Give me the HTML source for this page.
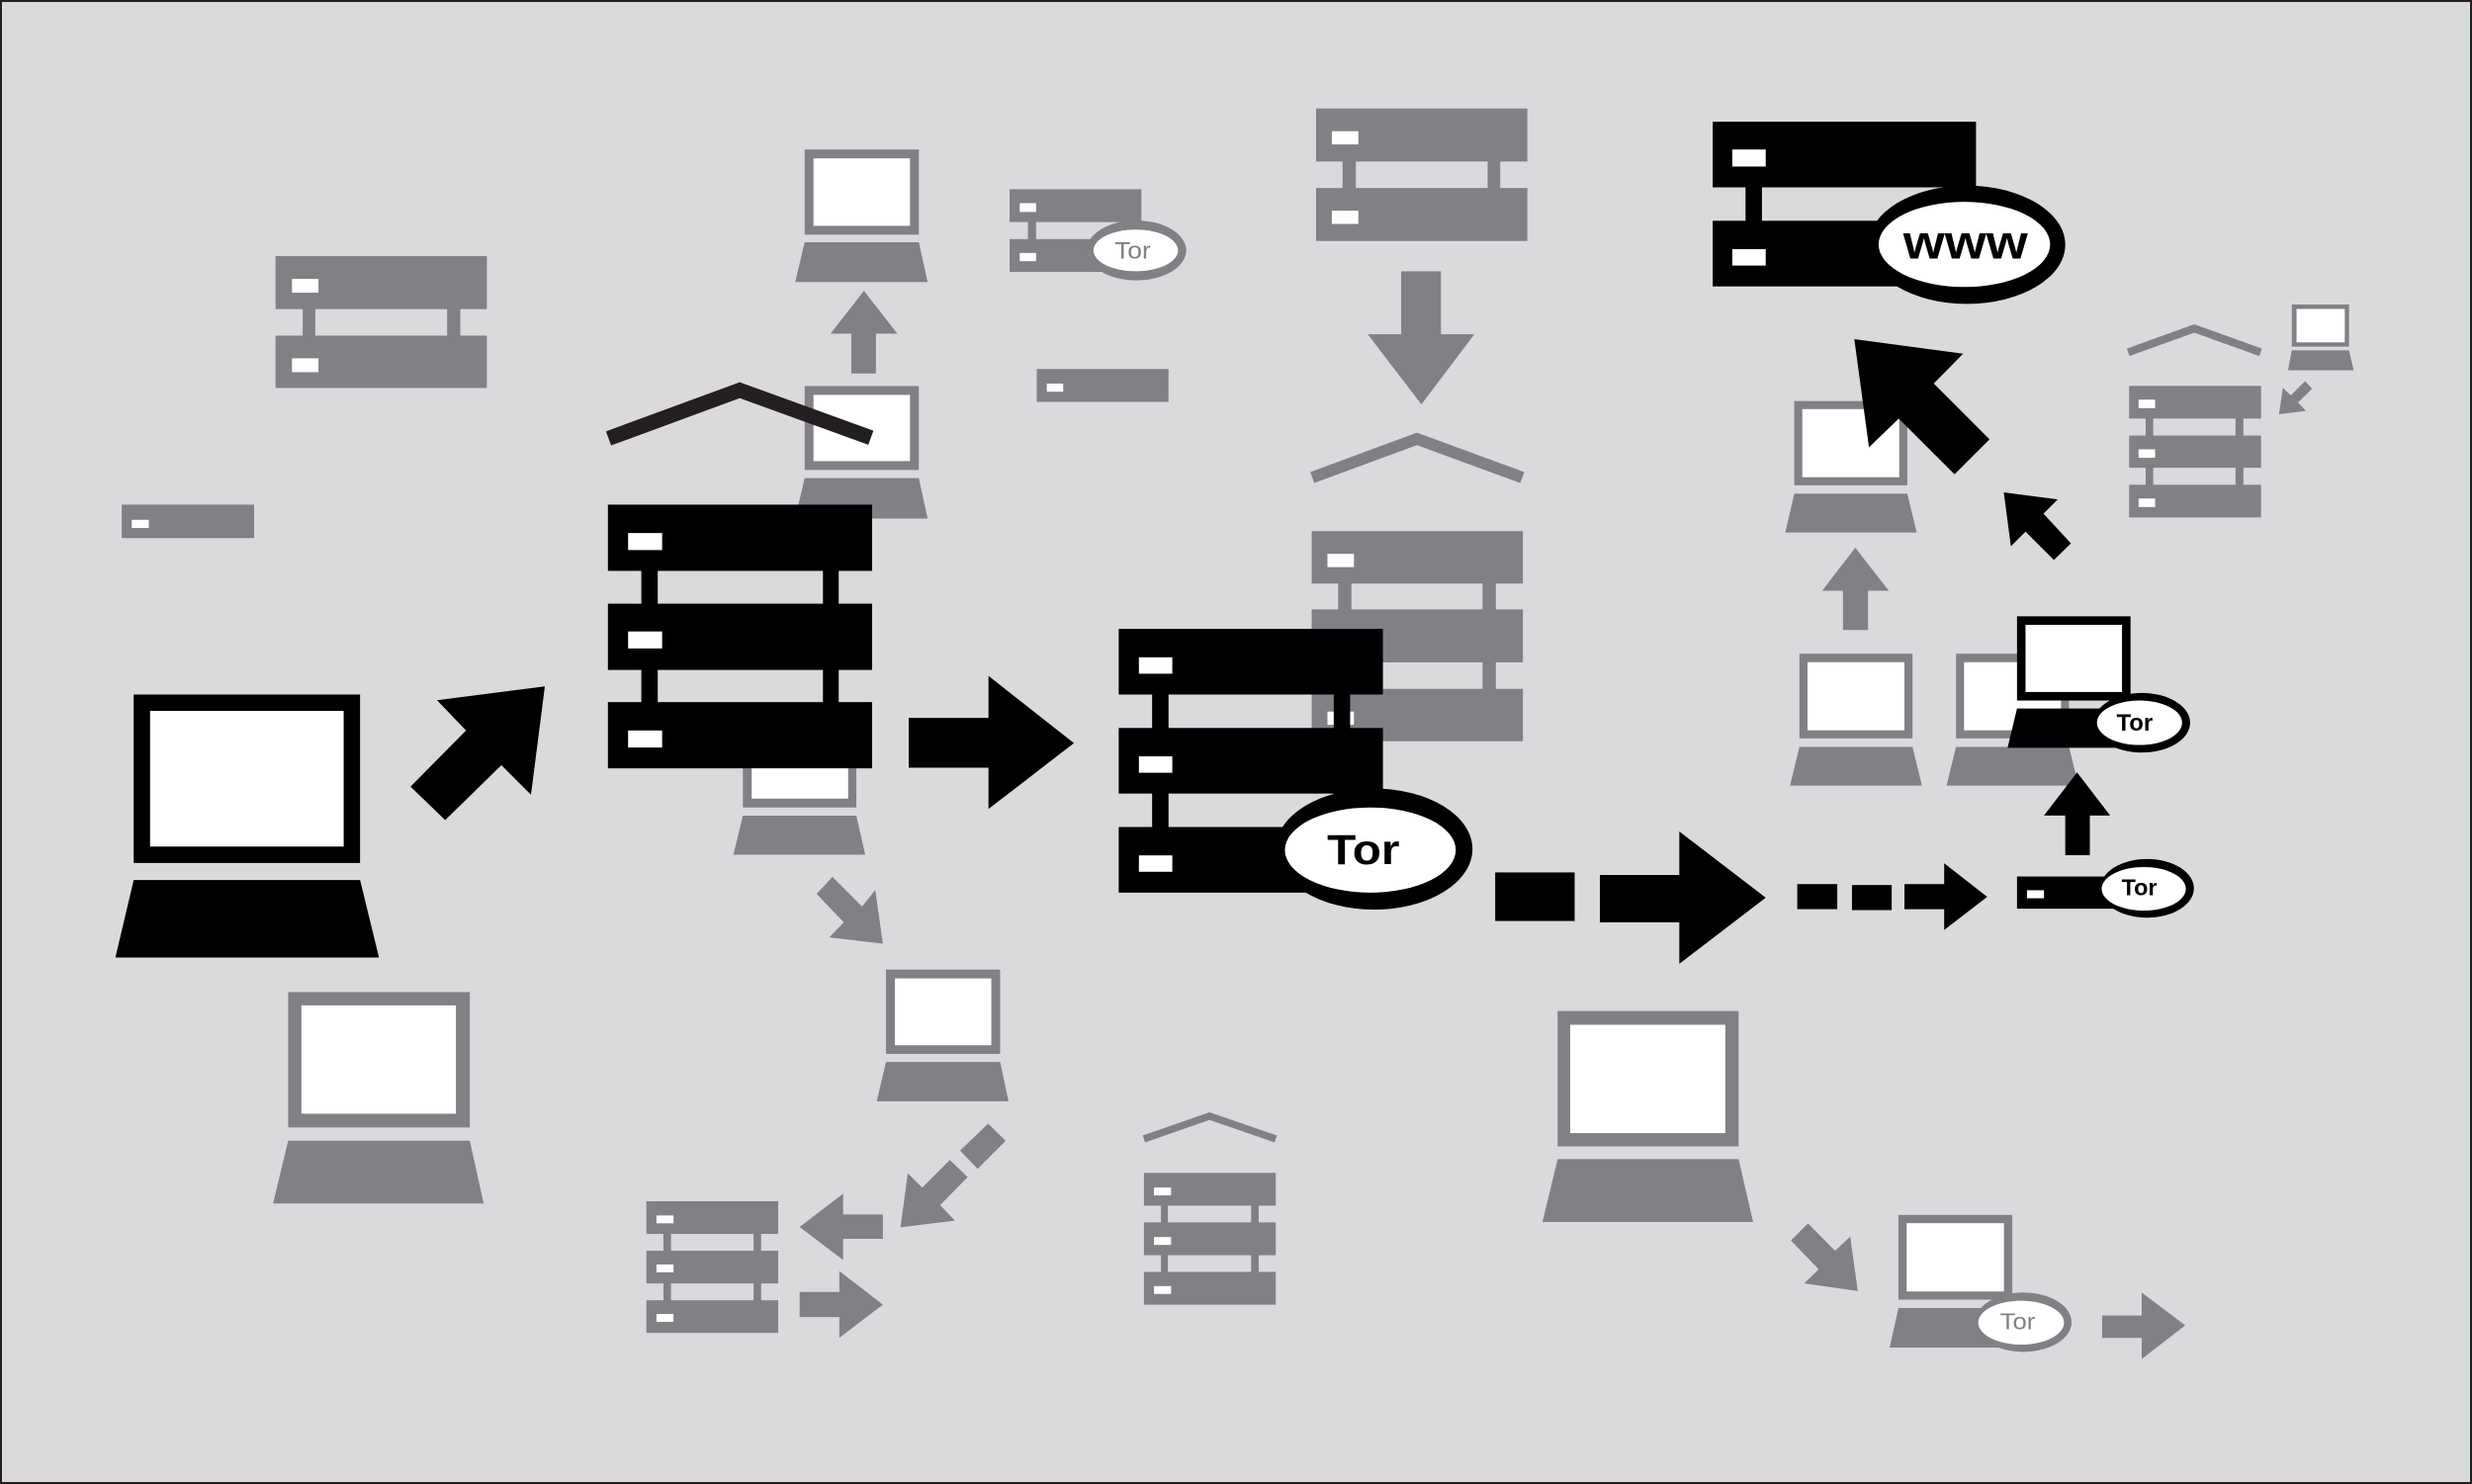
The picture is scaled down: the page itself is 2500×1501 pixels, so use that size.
<!DOCTYPE html>
<html><head><meta charset="utf-8"><style>html,body{margin:0;padding:0;background:#d9dadc;}svg{display:block;}</style></head><body>
<svg xmlns="http://www.w3.org/2000/svg" width="2500" height="1501" viewBox="0 0 1568 941" preserveAspectRatio="none">
<rect width="1568" height="941" fill="#d9dadc"/>
<g fill="#818085">
<!-- gray 2-unit TL -->
<rect x="174.8" y="162.4" width="134" height="33.6"/><rect x="174.8" y="212.8" width="134" height="33.2"/>
<rect x="192" y="195" width="8" height="19"/><rect x="283.6" y="195" width="8.4" height="19"/>
<!-- gray single left -->
<rect x="77.2" y="320" width="84" height="21.2"/>
<!-- laptop top -->
<rect x="510.4" y="94.8" width="72.4" height="54"/>
<polygon points="510.4,153.6 582.8,153.6 588.4,178.8 504.4,178.8"/>
<polygon points="548,184.4 569.2,211.6 555.6,211.6 555.6,236.8 540,236.8 540,211.6 526.8,211.6"/>
<rect x="510.4" y="244.8" width="72.4" height="53.2"/>
<polygon points="510.4,303.2 582.8,303.2 588.4,328.8 504.4,328.8"/>
<!-- gray tor server small -->
<rect x="640.4" y="120" width="83.6" height="20.8"/><rect x="640.4" y="151.6" width="83.6" height="20.8"/>
<rect x="652" y="140" width="5.2" height="12.4"/>
<ellipse cx="720.8" cy="158.8" rx="31.6" ry="19"/>
<!-- gray single -->
<rect x="657.6" y="234" width="83.6" height="20.8"/>
<!-- gray 2-unit top center -->
<rect x="834.8" y="68.8" width="134" height="33.6"/><rect x="834.8" y="119.2" width="134" height="33.6"/>
<rect x="851.6" y="102" width="8.4" height="18"/><rect x="943.6" y="102" width="8" height="18"/>
<polygon points="888.8,172 914,172 914,212 935.2,212 901.6,256.4 867.6,212 888.8,212"/>
<!-- gray 3-unit center -->
<rect x="832" y="336.8" width="134" height="33.2"/><rect x="832" y="386.4" width="134" height="33.6"/><rect x="832" y="436.8" width="134" height="33.2"/>
<rect x="848.8" y="369" width="8.4" height="18"/><rect x="940.4" y="369" width="8.4" height="18"/>
<rect x="848.8" y="419" width="8.4" height="18"/><rect x="940.4" y="419" width="8.4" height="18"/>
<!-- gray laptop behind black server -->
<rect x="471.2" y="458" width="72" height="54"/>
<polygon points="471.2,517.2 543.2,517.2 548.8,542 465.2,542"/>
<polygon points="518,566.8 528,556 546.8,574.8 555.2,564.4 560,598.4 526,594.4 535.2,584.8"/>
<!-- laptop lower center -->
<rect x="562" y="614.8" width="72.4" height="53.5"/>
<polygon points="562,673.4 634.4,673.4 639.7,698.3 556.1,698.3"/>
<polygon points="626.8,712.5 637.9,723.4 620.1,741.2 609,729.6"/>
<polygon points="571.2,778.2 575.8,743.9 585,753.1 602.5,735.5 613.8,746.4 596.3,764.1 605.7,774"/>
<!-- gray 3-unit small BL -->
<rect x="410" y="761.7" width="83.6" height="20.7"/><rect x="410" y="793.1" width="83.6" height="20.7"/><rect x="410" y="824.5" width="83.6" height="20.7"/>
<rect x="420.8" y="782" width="4.8" height="11.5"/><rect x="478" y="782" width="4.8" height="11.5"/>
<rect x="420.8" y="813.5" width="4.8" height="11.5"/><rect x="478" y="813.5" width="4.8" height="11.5"/>
<polygon points="507.2,778 534.8,756.9 534.8,770.1 560,770.1 560,785.5 534.8,785.5 534.8,799"/>
<polygon points="507.2,819.2 532.4,819.2 532.4,806 560,827.3 532.4,848.3 532.4,835.1 507.2,835.1"/>
<!-- big gray laptop BL -->
<rect x="182.8" y="629.1" width="115.2" height="85.8"/>
<polygon points="182.8,723.3 298,723.3 306.8,763.1 173.2,763.1"/>
<!-- bottom center server -->
<rect x="725.6" y="743.7" width="83.6" height="20.8"/><rect x="725.6" y="775.1" width="83.6" height="20.8"/><rect x="725.6" y="806.5" width="83.6" height="20.8"/>
<rect x="736.4" y="764" width="4.4" height="11.5"/><rect x="793.6" y="764" width="4.8" height="11.5"/>
<rect x="736.4" y="795.5" width="4.4" height="11.5"/><rect x="793.6" y="795.5" width="4.8" height="11.5"/>
<!-- big gray laptop right -->
<rect x="988" y="641.1" width="114.8" height="85.8"/>
<polygon points="988,735 1102.8,735 1112,774.9 978.4,774.9"/>
<polygon points="1136,786.6 1146.8,775.7 1164,793.1 1173.6,784.1 1178.4,818.6 1144.4,813.8 1153.6,804.9"/>
<!-- laptop with tor BR -->
<rect x="1204.2" y="770.4" width="72.2" height="53.7"/>
<polygon points="1204.2,829.4 1276.4,829.4 1282,854.5 1198.6,854.5"/>
<ellipse cx="1283.4" cy="838.4" rx="30.6" ry="18.8"/>
<polygon points="1333.4,834.2 1358.5,834.2 1358.5,819.6 1386.1,840.4 1358.5,861.8 1358.5,848.4 1333.4,848.4"/>
<!-- right gray laptops -->
<rect x="1138.1" y="254.3" width="71.7" height="53.4"/>
<polygon points="1138.1,313.1 1209.8,313.1 1215.8,337.7 1132.4,337.7"/>
<polygon points="1176.8,347.3 1198.1,374.6 1184.9,374.6 1184.9,399.5 1169,399.5 1169,374.6 1155.8,374.6"/>
<rect x="1141.4" y="414.5" width="71.7" height="53.7"/>
<polygon points="1141.4,473.6 1213.1,473.6 1219.1,498.2 1135.4,498.2"/>
<rect x="1240.7" y="414.5" width="71.7" height="53.7"/>
<polygon points="1240.7,473.6 1312.4,473.6 1318.4,498.2 1234.7,498.2"/>
<!-- tiny laptop TR -->
<rect x="1453.7" y="193.1" width="36.3" height="26.7"/>
<polygon points="1453.7,222.2 1490,222.2 1493,234.8 1451.3,234.8"/>
<polygon points="1462.1,241.7 1466.6,246.5 1457.6,255.2 1462.7,260.6 1445.6,262.7 1448,245.9 1453.1,250.7"/>
<rect x="1350.5" y="244.7" width="83.7" height="20.7"/><rect x="1350.5" y="276.2" width="83.7" height="20.4"/><rect x="1350.5" y="307.4" width="83.7" height="20.7"/>
<rect x="1361" y="265" width="4.8" height="11.5"/><rect x="1418" y="265" width="5" height="11.5"/>
<rect x="1361" y="296.4" width="4.8" height="11.2"/><rect x="1418" y="296.4" width="5" height="11.2"/>
</g>
<g fill="none" stroke="#818085" stroke-linejoin="miter" stroke-miterlimit="10">
<polyline points="832.4,302.8 898.8,278.3 965.6,302.8" stroke-width="7.4"/>
<polyline points="725.6,722.2 767.2,707.7 809.2,722.2" stroke-width="4.6"/>
<polyline points="1349.9,223.4 1391.9,208.3 1433.9,223.4" stroke-width="5"/>
</g>
<g fill="#fff">
<rect x="185.2" y="176.8" width="16.8" height="8.8"/><rect x="185.2" y="227.2" width="16.8" height="8.8"/>
<rect x="83.6" y="329.6" width="10.8" height="5.2"/>
<rect x="516" y="100.4" width="61.2" height="42.8"/>
<rect x="516" y="250.4" width="61.2" height="42"/>
<rect x="646.8" y="128.8" width="10.4" height="5.6"/><rect x="646.8" y="160.4" width="10.4" height="5.2"/>
<ellipse cx="720.4" cy="158.8" rx="26.8" ry="13.2"/>
<rect x="664" y="243.2" width="10.4" height="5.2"/>
<rect x="844.8" y="83.2" width="16.8" height="8.4"/><rect x="844.8" y="133.6" width="16.8" height="8.4"/>
<rect x="842" y="351.2" width="16.8" height="8.4"/><rect x="842" y="401" width="16.8" height="8.4"/><rect x="842" y="451.2" width="16.8" height="8.4"/>
<rect x="476.8" y="463.6" width="61.2" height="42.8"/>
<rect x="567.6" y="620.4" width="61.2" height="42.4"/>
<rect x="416.4" y="770.7" width="10.8" height="5"/><rect x="416.4" y="801.8" width="10.8" height="5"/><rect x="416.4" y="833.2" width="10.8" height="5"/>
<rect x="191.2" y="637.5" width="98" height="68.7"/>
<rect x="732" y="753" width="10.8" height="5"/><rect x="732" y="784.4" width="10.8" height="5"/><rect x="732" y="815.5" width="10.8" height="5"/>
<rect x="996" y="649.8" width="98.4" height="68.7"/>
<rect x="1209.4" y="775.6" width="61.7" height="43.3"/>
<ellipse cx="1282" cy="838.7" rx="27.2" ry="13.9"/>
<rect x="1143.2" y="259.4" width="61.5" height="43.2"/>
<rect x="1146.5" y="419.9" width="61.5" height="43.2"/>
<rect x="1245.8" y="419.9" width="61.5" height="43.2"/>
<rect x="1456.7" y="195.9" width="30.6" height="21.2"/>
<rect x="1356.5" y="253.4" width="10.5" height="5.4"/><rect x="1356.5" y="284.9" width="10.5" height="5.4"/><rect x="1356.5" y="316.1" width="10.5" height="5.4"/>
</g>
<g font-family="'Liberation Sans', 'DejaVu Sans', sans-serif" text-anchor="middle" fill="#818085">
<text x="718.4" y="164" font-size="15" textLength="23" lengthAdjust="spacingAndGlyphs">Tor</text>
<text x="1279.8" y="843" font-size="14.5" textLength="22.4" lengthAdjust="spacingAndGlyphs">Tor</text>
</g>
<!-- BLACK -->
<g fill="#000">
<rect x="84.8" y="440.4" width="143.6" height="106.8"/>
<polygon points="84.8,558 228.4,558 240.4,607.2 73.2,607.2"/>
<polygon points="345.6,435.2 277.2,444 295.6,463.2 260.4,498.8 282.4,520 318,485.2 336.8,504"/>
<rect x="385.6" y="320" width="167.6" height="42"/><rect x="385.6" y="382.8" width="167.6" height="42"/><rect x="385.6" y="445.2" width="167.6" height="42"/>
<rect x="406.8" y="361" width="10.4" height="23"/><rect x="522" y="361" width="10" height="23"/>
<rect x="406.8" y="423.8" width="10.4" height="23"/><rect x="522" y="423.8" width="10" height="23"/>
<polygon points="576.4,455.2 627,455.2 627,428.6 681.2,471.2 627,513 627,486.8 576.4,486.8"/>
<rect x="709.6" y="398.8" width="167.6" height="41.6"/><rect x="709.6" y="461.6" width="167.6" height="41.6"/><rect x="709.6" y="524.4" width="167.6" height="41.6"/>
<rect x="730.8" y="439.5" width="10.4" height="23"/><rect x="846" y="439.5" width="10.4" height="23"/>
<rect x="730.8" y="502.3" width="10.4" height="23"/><rect x="846" y="502.3" width="10.4" height="23"/>
<ellipse cx="871.6" cy="538.4" rx="62.4" ry="38.4"/>
<rect x="948.4" y="553.2" width="50.4" height="30.8"/>
<polygon points="1014.8,554.8 1065.2,554.8 1065.2,527.2 1120,569.2 1065.2,611.2 1065.2,584.8 1014.8,584.8"/>
<rect x="1140" y="560.6" width="25.4" height="15.9"/><rect x="1174.7" y="561.2" width="25.2" height="15.9"/>
<polygon points="1208,560.6 1233.2,560.6 1233.2,547.4 1260.5,568.7 1233.2,589.7 1233.2,576.5 1208,576.5"/>
<rect x="1279.4" y="555.8" width="66" height="20.4"/>
<ellipse cx="1361.9" cy="563.3" rx="29.7" ry="18.6"/>
<polygon points="1317.5,489.8 1338.5,517.1 1325.6,517.1 1325.6,542.3 1310,542.3 1310,517.1 1296.5,517.1"/>
<rect x="1279.4" y="390.8" width="72" height="53.4"/>
<polygon points="1279.4,449.3 1351.4,449.3 1357.4,474.2 1273.4,474.2"/>
<ellipse cx="1358.6" cy="458.3" rx="30.6" ry="18.9"/>
<polygon points="1271,312.2 1305.2,316.7 1296.2,325.7 1313.6,344.6 1302.8,355.1 1284.8,337.1 1275.5,346.4"/>
<polygon points="1176.2,215 1245.2,224.3 1226.6,243.2 1262,278.6 1239.8,300.8 1204.4,265.4 1185.5,283.7"/>
<rect x="1086.4" y="77.2" width="167" height="41.6"/><rect x="1086.4" y="140" width="167" height="41.6"/>
<rect x="1107.2" y="118" width="10.4" height="23"/>
<ellipse cx="1247.6" cy="155.2" rx="62.4" ry="37.5"/>
</g>
<polyline points="386,278 469.2,247.4 552.4,277.6" fill="none" stroke="#231f20" stroke-width="9.5" stroke-linejoin="miter" stroke-miterlimit="10"/>
<g fill="#fff">
<rect x="95.2" y="450.8" width="122.8" height="86"/>
<rect x="398.4" y="338" width="21.6" height="10.8"/><rect x="398.4" y="400.4" width="21.6" height="10.8"/><rect x="398.4" y="463.2" width="21.6" height="10.8"/>
<rect x="722.4" y="416.8" width="21.2" height="10.4"/><rect x="722.4" y="479.6" width="21.2" height="10.4"/><rect x="722.4" y="542.4" width="21.2" height="10.4"/>
<ellipse cx="869.2" cy="539" rx="54.2" ry="27"/>
<rect x="1285.7" y="564.5" width="10.8" height="5.1"/>
<ellipse cx="1359.8" cy="563.6" rx="26.7" ry="13.8"/>
<rect x="1284.8" y="396.2" width="61.2" height="42.6"/>
<ellipse cx="1357.1" cy="458.3" rx="27" ry="14.1"/>
<rect x="1098.8" y="94.8" width="21.2" height="10.8"/><rect x="1098.8" y="158" width="21.2" height="10.4"/>
<ellipse cx="1246" cy="155" rx="54.4" ry="27"/>
</g>
<g font-family="'Liberation Sans', 'DejaVu Sans', sans-serif" text-anchor="middle" fill="#000" font-weight="bold">
<text x="864.8" y="548" font-size="27" textLength="46" lengthAdjust="spacingAndGlyphs">Tor</text>
<text x="1357" y="567.8" font-size="14.5" textLength="22.5" lengthAdjust="spacingAndGlyphs">Tor</text>
<text x="1354" y="463.4" font-size="15" textLength="23" lengthAdjust="spacingAndGlyphs">Tor</text>
<text x="1246.7" y="164" font-size="30" textLength="79" lengthAdjust="spacingAndGlyphs">www</text>
</g>
<rect x="0.6" y="0.6" width="1566.8" height="939.8" fill="none" stroke="#231f20" stroke-width="1.3"/>
</svg>
</body></html>
